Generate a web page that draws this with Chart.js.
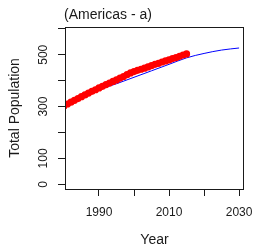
<!DOCTYPE html>
<html>
<head>
<meta charset="utf-8">
<script src="https://cdn.jsdelivr.net/npm/chart.js@4.4.1/dist/chart.umd.min.js"></script>
<style>
  html, body { margin: 0; padding: 0; background: #ffffff; }
  canvas { display: block; }
</style>
</head>
<body>
<canvas id="c" width="254" height="252"></canvas>
<script>
// ---- data ----
const chartTitle = "(Americas - a)";
const xAxisTitle = "Year";
const yAxisTitle = "Total Population";

const obsYears = [1980,1981,1982,1983,1984,1985,1986,1987,1988,1989,
                  1990,1991,1992,1993,1994,1995,1996,1997,1998,1999,
                  2000,2001,2002,2003,2004,2005,2006,2007,2008,2009,
                  2010,2011,2012,2013,2014,2015];
const obsValues = [303,310,317,324,331,338,345,352,359,365,
                   372,378,385,391,397,403,410,416,423,430,
                   435,440,444,448,453,458,463,467,472,476,
                   480,485,489,494,499,503];

const projYears  = [1980,1985,1990,1995,2000,2005,2010,2015,2020,2025,2030];
const projValues = [303, 335, 365, 388, 413, 438, 463, 488, 505, 518, 526];

const xTickValues = [1990,2000,2010,2020,2030];
const xTickLabels = ["1990","","2010","","2030"];
const yTickValues = [0,100,200,300,400,500,600];
const yTickLabels = ["0","100","","300","","500",""];

// ---- chart ----
const FONT = "'Liberation Sans', Arial, sans-serif";
const INK = "#1a1a1a";

const textPlugin = {
  id: 'rtext',
  afterDraw(chart) {
    const ctx = chart.ctx;
    const a = chart.chartArea;
    const xs = chart.scales.x, ys = chart.scales.y;
    ctx.save();
    // frame
    ctx.strokeStyle = INK;
    ctx.lineWidth = 1;
    ctx.strokeRect(Math.round(a.left) + 0.5, Math.round(a.top) + 0.5,
                   Math.round(a.right - a.left) - 1, Math.round(a.bottom - a.top));
    ctx.fillStyle = INK;
    // x tick labels
    ctx.font = "12px " + FONT;
    ctx.textAlign = "center";
    ctx.textBaseline = "middle";
    xTickValues.forEach((v, i) => {
      if (xTickLabels[i]) ctx.fillText(xTickLabels[i], xs.getPixelForValue(v), 213);
    });
    // y tick labels (rotated)
    yTickValues.forEach((v, i) => {
      if (!yTickLabels[i]) return;
      ctx.save();
      ctx.translate(43.5, ys.getPixelForValue(v));
      ctx.rotate(-Math.PI / 2);
      ctx.fillText(yTickLabels[i], 0, 0);
      ctx.restore();
    });
    // axis titles
    ctx.font = "14px " + FONT;
    ctx.fillText(xAxisTitle, (a.left + a.right) / 2, 240);
    ctx.save();
    ctx.translate(15.5, (a.top + a.bottom) / 2);
    ctx.rotate(-Math.PI / 2);
    ctx.fillText(yAxisTitle, 0, 0);
    ctx.restore();
    // main title
    ctx.textAlign = "left";
    ctx.fillText(chartTitle, 64, 15);
    ctx.restore();
  }
};

new Chart(document.getElementById('c'), {
  type: 'line',
  data: {
    datasets: [
      {
        label: 'observed',
        data: obsYears.map((y, i) => ({ x: y, y: obsValues[i] })),
        borderColor: '#ff0000',
        backgroundColor: '#ff0000',
        borderWidth: 5,
        pointRadius: 3.6,
        pointBorderWidth: 0,
        pointHoverRadius: 0,
        tension: 0,
        fill: false
      },
      {
        label: 'projection',
        data: projYears.map((y, i) => ({ x: y, y: projValues[i] })),
        borderColor: '#0000ff',
        borderWidth: 1,
        pointRadius: 0,
        cubicInterpolationMode: 'monotone',
        fill: false
      }
    ]
  },
  options: {
    responsive: false,
    devicePixelRatio: 1,
    animation: false,
    events: [],
    layout: { padding: { top: 27, right: 10, left: 0, bottom: 0 } },
    plugins: { legend: { display: false }, tooltip: { enabled: false }, title: { display: false } },
    scales: {
      x: {
        type: 'linear',
        min: 1980.3,
        max: 2031.4,
        afterBuildTicks: s => { s.ticks = xTickValues.map(v => ({ value: v })); },
        afterFit: s => { s.height = 63; },
        ticks: { callback: () => '', maxRotation: 0, autoSkip: false },
        grid: { drawOnChartArea: false, drawTicks: true, tickLength: 7, color: INK, tickColor: INK, lineWidth: 1 },
        border: { display: false }
      },
      y: {
        type: 'linear',
        min: -18,
        max: 607,
        afterBuildTicks: s => { s.ticks = yTickValues.map(v => ({ value: v })); },
        afterFit: s => { s.width = 65; },
        ticks: { callback: () => '', autoSkip: false },
        grid: { drawOnChartArea: false, drawTicks: true, tickLength: 7, color: INK, tickColor: INK, lineWidth: 1 },
        border: { display: false }
      }
    }
  },
  plugins: [textPlugin]
});
</script>
</body>
</html>
